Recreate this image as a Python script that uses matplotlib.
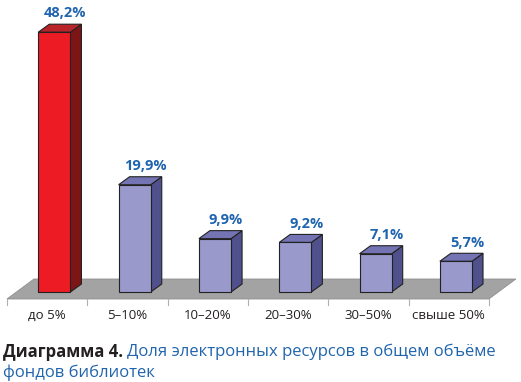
import matplotlib
matplotlib.use("Agg")
import matplotlib.pyplot as plt
from matplotlib.patches import Polygon

# данные диаграммы
categories = ["до 5%", "5–10%", "10–20%", "20–30%", "30–50%", "свыше 50%"]
values = [48.2, 19.9, 9.9, 9.2, 7.1, 5.7]
value_labels = ["48,2%", "19,9%", "9,9%", "9,2%", "7,1%", "5,7%"]

plt.rcParams['font.family'] = ['Open Sans', 'DejaVu Sans']

fig = plt.figure(figsize=(5.21, 3.82), dpi=100)
ax = fig.add_axes([0, 0, 1, 1])
ax.set_xlim(-0.087, 6.40)
ax.set_ylim(-16.7, 54.17)
ax.axis("off")

# псевдо-3D параметры
bar_off = 0.39
bar_w = 0.40
ddx, ddy = 0.137, 1.48        # глубина столбика
floor_front = -1.3
floor_ddx, floor_ddy = 0.336, 3.71

# пол
floor = Polygon([(0, floor_front), (6, floor_front),
                 (6 + floor_ddx, floor_front + floor_ddy),
                 (floor_ddx, floor_front + floor_ddy)],
                closed=True, facecolor="#a3a3a3", edgecolor="#8f8f8f", lw=0.6)
ax.add_patch(floor)
for i in range(len(categories) + 1):
    ax.plot([i, i], [floor_front, floor_front - 1.2], color="#b0b0b0", lw=0.8)

for i, v in enumerate(values):
    if i == 0:
        front, side, top = "#ed1c24", "#7d1517", "#b8242a"
    else:
        front, side, top = "#9999cc", "#50508c", "#7474b4"
    x0 = i + bar_off
    x1 = x0 + bar_w
    ax.add_patch(Polygon([(x1, 0), (x1 + ddx, ddy), (x1 + ddx, v + ddy), (x1, v)],
                         closed=True, facecolor=side, edgecolor="#222222", lw=0.8))
    ax.add_patch(Polygon([(x0, v), (x1, v), (x1 + ddx, v + ddy), (x0 + ddx, v + ddy)],
                         closed=True, facecolor=top, edgecolor="#222222", lw=0.8))
    ax.add_patch(Polygon([(x0, 0), (x1, 0), (x1, v), (x0, v)],
                         closed=True, facecolor=front, edgecolor="#222222", lw=0.8))
    ax.text(x0 + bar_w / 2 + ddx, v + ddy + 2.0, value_labels[i], ha="center", va="center",
            color="#1f64ae", fontsize=10.5, fontweight="bold")
    ax.text(i + 0.5, -4.3, categories[i], ha="center", va="center",
            color="#231f20", fontsize=9.5)

# подпись: жирная часть + синий текст сразу за ней
t1 = fig.text(0.006, 0.079, "Диаграмма 4.", ha="left", va="center",
              color="#231f20", fontsize=12, fontweight="bold")
fig.canvas.draw()
bb = t1.get_window_extent(fig.canvas.get_renderer())
x_next = (bb.x1 + 4) / fig.bbox.width
fig.text(x_next, 0.079, "Доля электронных ресурсов в общем объёме",
         ha="left", va="center", color="#2064ad", fontsize=12)
fig.text(0.006, 0.024, "фондов библиотек", ha="left", va="center",
         color="#2064ad", fontsize=12)

fig.savefig("out.png", dpi=100)
